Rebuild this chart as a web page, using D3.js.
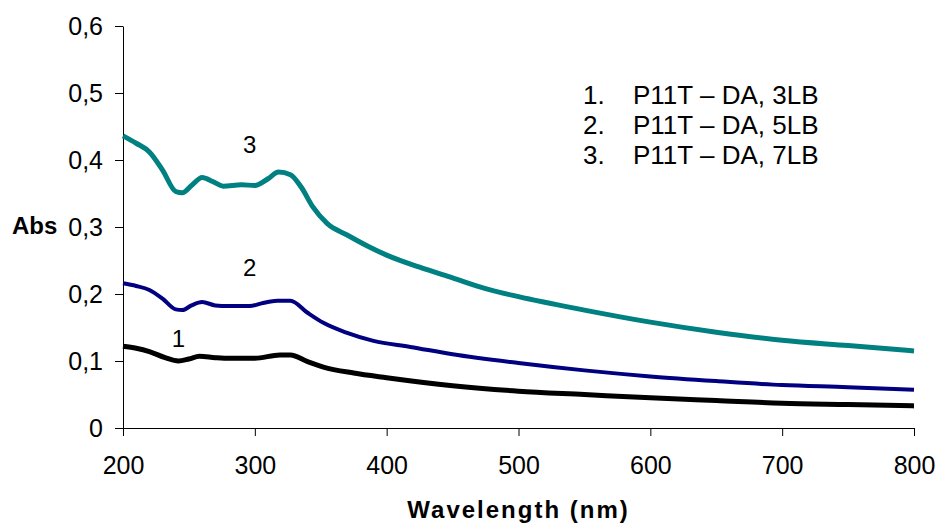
<!DOCTYPE html>
<html>
<head>
<meta charset="utf-8">
<script src="https://cdn.jsdelivr.net/npm/d3@7"></script>
<style>
  body { margin: 0; background: #fff; }
  svg { display: block; font-family: Arial, "Liberation Sans", sans-serif; }
  .axis path, .axis line { stroke: #000; stroke-width: 1; }
  .axis text { font-size: 25px; fill: #000; }
</style>
</head>
<body>
<svg id="chart" width="938" height="526"></svg>
<script>
'use strict';

// wavelength (nm) sample points for each curve
var wl3 = [200, 210, 220, 230, 240, 245, 252, 260, 268, 276, 290, 300, 310, 318, 327, 335, 344, 355, 370, 385, 400, 425, 450, 475, 500, 550, 600, 650, 700, 750, 800];
var abs3 = [0.436, 0.425, 0.412, 0.385, 0.353, 0.351, 0.362, 0.374, 0.368, 0.361, 0.363, 0.362, 0.372, 0.382, 0.378, 0.360, 0.330, 0.305, 0.288, 0.272, 0.258, 0.240, 0.224, 0.208, 0.196, 0.176, 0.158, 0.143, 0.131, 0.123, 0.115];

var wl2 = [200, 210, 220, 230, 240, 245, 252, 260, 270, 280, 296, 305, 317, 327, 340, 352, 370, 390, 418, 450, 500, 550, 600, 650, 700, 750, 800];
var abs2 = [0.216, 0.212, 0.206, 0.193, 0.177, 0.176, 0.183, 0.188, 0.183, 0.182, 0.182, 0.186, 0.190, 0.190, 0.172, 0.157, 0.142, 0.130, 0.121, 0.110, 0.097, 0.086, 0.077, 0.070, 0.064, 0.061, 0.057];

var wl1 = [200, 210, 220, 232, 242, 250, 258, 270, 281, 300, 319, 327, 340, 352, 375, 400, 450, 500, 550, 600, 650, 700, 750, 800];
var abs1 = [0.122, 0.119, 0.114, 0.105, 0.100, 0.103, 0.107, 0.105, 0.104, 0.104, 0.109, 0.109, 0.099, 0.091, 0.082, 0.075, 0.063, 0.055, 0.050, 0.045, 0.041, 0.037, 0.035, 0.033];

var xTicks = [200, 300, 400, 500, 600, 700, 800];
var yTicks = [0, 0.1, 0.2, 0.3, 0.4, 0.5, 0.6];
var legendItems = ['P11T \u2013 DA, 3LB', 'P11T \u2013 DA, 5LB', 'P11T \u2013 DA, 7LB'];

var series = [
  {name: '1', wl: wl1, abs: abs1, color: '#000000', width: 5, label: [242, 0.133]},
  {name: '2', wl: wl2, abs: abs2, color: '#000080', width: 4, label: [296, 0.240]},
  {name: '3', wl: wl3, abs: abs3, color: '#008080', width: 5, label: [296, 0.423]}
];

var svg = d3.select('#chart');
var plotLeft = 123, plotRight = 914, plotTop = 26, plotBottom = 428;

var x = d3.scaleLinear().domain([200, 800]).range([plotLeft, plotRight]);
var y = d3.scaleLinear().domain([0, 0.6]).range([plotBottom, plotTop]);

function commaFmt(d) {
  return d === 0 ? '0' : d3.format('.1f')(d).replace('.', ',');
}

svg.append('g')
    .attr('class', 'axis')
    .attr('transform', 'translate(0,' + plotBottom + ')')
    .call(d3.axisBottom(x).tickValues(xTicks).tickSize(8).tickSizeOuter(0).tickPadding(20));

svg.append('g')
    .attr('class', 'axis')
    .attr('transform', 'translate(' + plotLeft + ',0)')
    .call(d3.axisLeft(y).tickValues(yTicks).tickFormat(commaFmt).tickSize(8).tickSizeOuter(0).tickPadding(12));

var line = d3.line()
    .x(function(d) { return x(d[0]); })
    .y(function(d) { return y(d[1]); })
    .curve(d3.curveMonotoneX);

series.forEach(function(s) {
  var pts = s.wl.map(function(w, i) { return [w, s.abs[i]]; });
  svg.append('path')
      .datum(pts)
      .attr('d', line)
      .attr('fill', 'none')
      .attr('stroke', s.color)
      .attr('stroke-width', s.width)
      .attr('stroke-linejoin', 'round');
  // curve number next to each trace
  svg.append('text')
      .attr('x', x(s.label[0]))
      .attr('y', y(s.label[1]))
      .attr('text-anchor', 'middle')
      .attr('dominant-baseline', 'central')
      .style('font-size', '24px')
      .text(s.name);
});

// legend block, top right
var legend = svg.append('g').style('font-size', '26px');
legendItems.forEach(function(t, i) {
  legend.append('text')
      .attr('x', 583).attr('y', 104 + i * 30)
      .text((i + 1) + '.');
  legend.append('text')
      .attr('x', 633).attr('y', 104 + i * 30)
      .text(t);
});

svg.append('text')
    .attr('x', 12).attr('y', 234)
    .style('font-size', '24px')
    .style('font-weight', 'bold')
    .text('Abs');

svg.append('text')
    .attr('x', (plotLeft + plotRight) / 2).attr('y', 518)
    .attr('text-anchor', 'middle')
    .style('font-size', '24px')
    .style('font-weight', 'bold')
    .style('letter-spacing', '2px')
    .text('Wavelength (nm)');
</script>
</body>
</html>
